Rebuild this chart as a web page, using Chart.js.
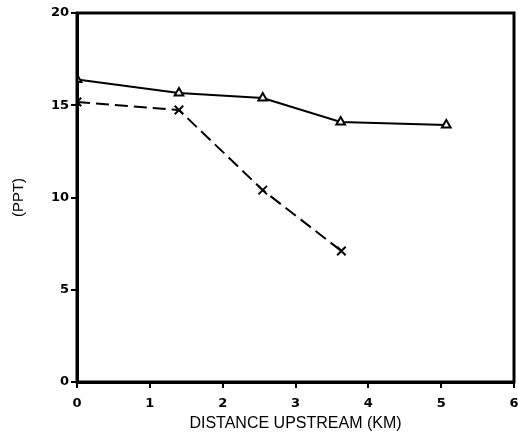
<!DOCTYPE html>
<html>
<head>
<meta charset="utf-8">
<script src="https://cdn.jsdelivr.net/npm/chart.js@4"></script>
<style>
  html, body { margin: 0; padding: 0; background: #fff; }
  #wrap { width: 518px; height: 442px; }
</style>
</head>
<body>
<div id="wrap"><canvas id="lineChart"></canvas></div>
<script>
// distance upstream (km) and salinity (ppt)
const distA = [0, 1.4, 2.55, 3.62, 5.07];
const pptA = [16.4, 15.66, 15.39, 14.09, 13.93];
const distB = [0, 1.4, 2.55, 3.63];
const pptB = [15.18, 14.74, 10.4, 7.1];
const xTicks = [0, 1, 2, 3, 4, 5, 6];
const yTicks = [0, 5, 10, 15, 20];

const toPoints = (xs, ys) => xs.map((x, i) => ({ x: x, y: ys[i] }));

const ctx = document.getElementById('lineChart');

// draws the closed box round the plot area
const frame = {
    id: 'frame',
    afterDraw(chart) {
        const a = chart.chartArea;
        const c = chart.ctx;
        c.save();
        c.strokeStyle = '#000';
        c.lineWidth = 3;
        c.strokeRect(a.left, a.top, a.right - a.left, a.bottom - a.top);
        c.restore();
    }
};

const tickFont = { family: 'DejaVu Sans', size: 13, weight: 'bold' };

new Chart(ctx, {
    type: 'line',
    data: {
        datasets: [{
            data: toPoints(distA, pptA),
            borderColor: '#000',
            borderWidth: 2,
            pointStyle: 'triangle',
            pointRadius: 5,
            pointBorderWidth: 2,
            pointBackgroundColor: '#fff',
            pointBorderColor: '#000',
            tension: 0
        }, {
            data: toPoints(distB, pptB),
            borderColor: '#000',
            borderWidth: 2,
            borderDash: [13, 6],
            pointStyle: 'crossRot',
            pointRadius: 6,
            pointBorderWidth: 2,
            pointBorderColor: '#000',
            tension: 0
        }]
    },
    options: {
        responsive: true,
        maintainAspectRatio: false,
        animation: false,
        layout: { autoPadding: false, padding: { top: 13, right: 4, left: 0, bottom: 0 } },
        plugins: { legend: { display: false }, tooltip: { enabled: false } },
        scales: {
            x: {
                type: 'linear',
                min: 0,
                max: 6,
                afterBuildTicks: s => { s.ticks = xTicks.map(v => ({ value: v })); },
                afterFit: s => { s.height = 60; s.paddingRight = 0; s.paddingLeft = 0; },
                border: { display: true, color: '#000', width: 3 },
                grid: { drawOnChartArea: false, drawTicks: true, tickLength: 6, color: '#000', lineWidth: 2 },
                ticks: { color: '#000', font: tickFont, padding: 8, maxRotation: 0 },
                title: {
                    display: true,
                    text: 'DISTANCE UPSTREAM (KM)',
                    color: '#000',
                    font: { family: 'Liberation Sans', size: 16 },
                    padding: { top: 0, bottom: 9 }
                }
            },
            y: {
                min: 0,
                max: 20,
                afterBuildTicks: s => { s.ticks = yTicks.map(v => ({ value: v })); },
                afterFit: s => { s.width = 77; },
                border: { display: true, color: '#000', width: 3 },
                grid: { drawOnChartArea: false, drawTicks: true, tickLength: 6, color: '#000', lineWidth: 2 },
                ticks: { color: '#000', font: tickFont, padding: 2 },
                title: {
                    display: true,
                    text: '(PPT)',
                    color: '#000',
                    font: { family: 'Liberation Sans', size: 15 },
                    padding: { top: 10, bottom: 0 }
                }
            }
        }
    },
    plugins: [frame]
});
</script>
</body>
</html>
